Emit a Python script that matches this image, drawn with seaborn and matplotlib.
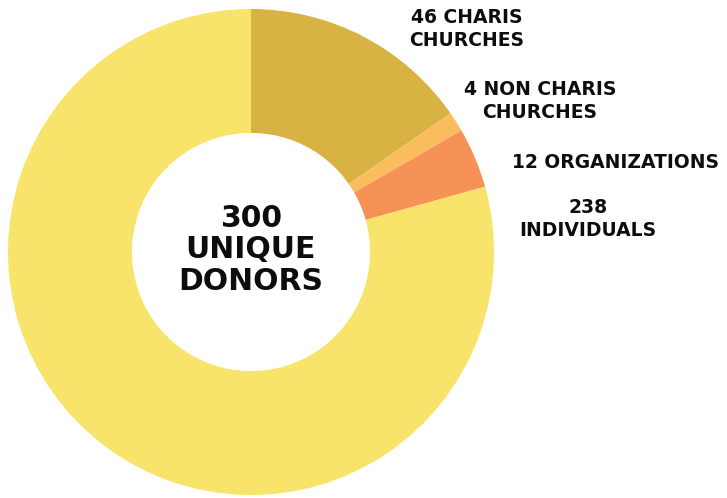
import numpy as np
import seaborn as sns
import matplotlib
matplotlib.use('Agg')
import matplotlib.pyplot as plt

# donor groups, clockwise from the top
groups = ['46 CHARIS\nCHURCHES', '4 NON CHARIS\nCHURCHES', '12 ORGANIZATIONS', '238\nINDIVIDUALS']
counts = [46, 4, 12, 238]
colors = ['#D8B343', '#FBBC5E', '#F79257', '#F9E46B']
center_text = '300\nUNIQUE\nDONORS'

sns.set_theme(style='white')
plt.rcParams['font.family'] = ['DejaVu Sans']

fig = plt.figure(figsize=(7.27, 4.98), dpi=100)
ax = fig.add_axes([0, 0, 1, 1])

wedges, _ = ax.pie(counts, colors=colors, startangle=90, counterclock=False,
                   radius=1, center=(0, 0),
                   wedgeprops=dict(width=0.51, linewidth=0))

# pixel -> data scale: 243 px per unit, centre at (251, 246 from bottom)
ax.set_xlim(-251 / 243, (727 - 251) / 243)
ax.set_ylim(-246 / 243, (498 - 246) / 243)
ax.set_aspect('equal')
ax.axis('off')

# label positions (px from left, px from top)
label_px = [(467, 29), (540, 101), (616, 162), (588, 219)]
for txt, (px, py) in zip(groups, label_px):
    ax.text((px - 251) / 243, (498 - py - 246) / 243, txt,
            ha='center', va='center', fontsize=13.5, fontweight='bold',
            color='#0d0d0d', linespacing=1.22)

ax.text(0, (498 - 250 - 246) / 243, center_text, ha='center', va='center',
        fontsize=21.5, fontweight='bold', color='#0d0d0d', linespacing=1.12)

fig.savefig('out.png', dpi=100, facecolor='white')
